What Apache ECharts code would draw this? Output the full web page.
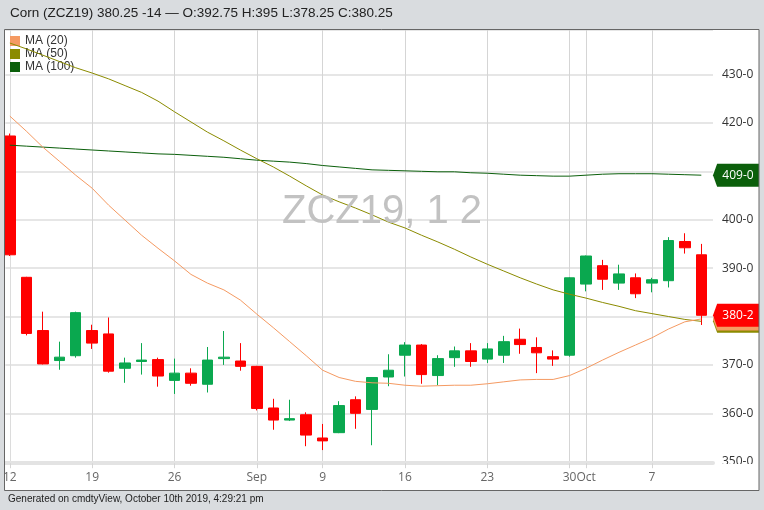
<!DOCTYPE html>
<html>
<head>
<meta charset="utf-8">
<style>
html,body{margin:0;padding:0;background:#d9dcdf;}
#main{width:764px;height:510px;}
</style>
<script src="https://cdn.jsdelivr.net/npm/echarts@6/dist/echarts.min.js"></script>
</head>
<body>
<div id="main"></div>
<script>
var opens = [417.3,388.1,377.1,370.9,371.9,377.1,376.4,369.3,370.7,371.1,366.8,368.3,366,371.3,370.8,369.7,361.1,358.6,359.7,354.9,356,362.8,360.8,367.5,372,374.1,367.8,371.5,372.9,371.2,372,375.3,373.6,371.7,372,386.7,390.5,386.9,388,386.9,387.4,395.5,392.75];
var closes = [392.75,376.5,370.2,371.6,380.8,374.5,368.7,370.4,371,367.7,368.3,366.2,371,371.6,369.7,361,358.6,358.9,355.5,354.3,361.6,360,367.4,368.9,374.1,368,371.3,372.9,370.7,373.3,374.8,374.2,372.5,371.2,388,392.5,387.7,388.8,384.7,387.6,395.7,394.2,380.25];
var lows = [392.5,376.1,370.1,369,371.5,373.3,368.4,366.3,368,365.5,364,365.7,364.3,370,368.8,360.6,356.6,358.4,353.2,352.4,355.9,356.8,353.4,365.6,367.6,366.1,365.8,369.6,369.6,370.4,370.4,372.3,368.3,369.8,371.7,385.2,385.5,385.5,383.8,385,386,393,378.25];
var highs = [417.8,388.2,381,374.8,381,378.3,379.8,371.5,374.5,371.5,371.3,369.3,373.7,377,374.5,369.8,363,362.8,360.2,357.8,362.5,363.5,367.5,372.2,374.7,374.3,372,373.8,374.5,374.5,376,377.5,375.7,373,388.1,392.6,391.7,390.7,388.9,388,396.4,397.2,395];

var ma20 = [421.4,418.3,415,412.1,409.2,406.5,403,399.9,396.8,394.1,391.5,388.7,386.9,385.5,383.4,380.5,377.7,374.8,371.9,368.9,367.4,366.6,366.3,366.2,365.8,365.6,365.7,365.8,365.8,366.1,366.5,366.9,367,367,367.8,369.3,371,372.6,374.1,375.6,377.4,378.9,379.5];
var ma50 = [436.5,435.3,434,432.7,431.4,430.3,429.1,427.7,426.3,424.5,422.3,420.2,418.1,416.3,414.4,412.6,410.9,409,407,405.1,403.7,402.4,401,399.5,398.3,396.8,395.4,393.9,392.3,390.8,389.4,388,386.7,385.5,384.6,383.8,382.9,382.1,381.2,380.6,380,379.4,379];
var ma100 = [415.4,415.2,415,414.8,414.6,414.4,414.2,414,413.8,413.6,413.5,413.3,413.1,412.9,412.6,412.3,412.1,411.9,411.6,411.2,410.9,410.6,410.3,410.2,410.1,410,409.9,409.9,409.7,409.6,409.4,409.2,409.1,409,409,409.2,409.4,409.5,409.5,409.5,409.4,409.3,409.2];

var tickIndex = [0,5,10,15,19,24,29,34,35,39];
var tickLabels = ['12','19','26','Sep','9','16','23','30','Oct','7'];

var titleText = 'Corn (ZCZ19) 380.25 -14 \u2014 O:392.75 H:395 L:378.25 C:380.25';
var footerText = 'Generated on cmdtyView, October 10th 2019, 4:29:21 pm';
var watermark = 'ZCZ19, 1 2';

var xMin = -0.27, xMax = 42.71;
var upColor = '#0aa84f', downColor = '#ff0000';

function toXY(arr){
	return arr.map(function(v,i){ return [i,v]; });
}

// price tag on the right edge, ends on the last value of a series
function priceTag(value,color,text,z){
	return {
		silent:true,
		z:z,
		symbol:'path://M0 50L9 0H100V100H9Z',
		symbolSize:[46,23],
		symbolOffset:[23,0],
		itemStyle:{color:color},
		label:{
			show:true,
			position:'inside',
			offset:[2,0],
			color:'#fff',
			fontSize:12,
			fontFamily:'Open Sans',
			formatter:text
		},
		data:[{coord:[xMax,value]}]
	};
}

function maSeries(name,arr,color,tag){
	return {
		name:name,
		type:'line',
		data:toXY(arr),
		showSymbol:false,
		clip:false,
		lineStyle:{color:color,width:1},
		itemStyle:{color:color},
		markPoint:tag
	};
}

var chart = echarts.init(document.querySelector('#main'));
var option = {
	animation:false,
	backgroundColor:'#d9dcdf',
	textStyle:{fontFamily:'Open Sans'},
	title:[
		{text:titleText,left:10,top:6.5,padding:0,textStyle:{fontFamily:'Liberation Sans',fontSize:13.5,fontWeight:'normal',color:'#222'}},
		{text:footerText,left:8,top:494,padding:0,textStyle:{fontFamily:'Liberation Sans',fontSize:10,fontWeight:'normal',color:'#222'}},
		{text:watermark,left:282,top:192,padding:0,textStyle:{fontFamily:'Liberation Sans',fontSize:40,fontWeight:'normal',color:'#c2c2c2'}}
	],
	legend:{
		data:['MA (20)','MA (50)','MA (100)'],
		orient:'vertical',
		left:10,
		top:35,
		padding:0,
		z:1,
		icon:'rect',
		itemWidth:10,
		itemHeight:10,
		itemGap:1,
		selectedMode:false,
		textStyle:{fontFamily:'Liberation Sans',fontSize:12,color:'#333'}
	},
	grid:{left:5,right:51,top:29.5,bottom:48.3},
	xAxis:{
		type:'value',
		min:xMin,
		max:xMax,
		offset:1.5,
		axisLine:{show:true,lineStyle:{color:'#e3e3e3',width:4}},
		axisTick:{show:true,customValues:tickIndex,length:5,lineStyle:{color:'#d5d5d5'}},
		splitLine:{show:true,lineStyle:{color:'#d5d5d5',width:1}},
		axisLabel:{
			customValues:tickIndex,
			hideOverlap:false,
			margin:8,
			color:'#666',
			fontSize:12,
			fontFamily:'Open Sans',
			formatter:function(v){ return tickLabels[tickIndex.indexOf(v)]; }
		}
	},
	yAxis:{
		type:'value',
		position:'right',
		min:350,
		max:439.3,
		interval:10,
		axisLine:{show:true,lineStyle:{color:'#dcdcdc',width:1}},
		axisTick:{show:false},
		splitLine:{show:true,lineStyle:{color:'#e6e6e6',width:2}},
		axisLabel:{
			showMaxLabel:false,
			margin:9,
			color:'#333',
			fontSize:12,
			fontFamily:'Open Sans',
			formatter:function(v){ return v+'-0'; }
		}
	},
	series:[
		maSeries('MA (100)',ma100,'#0b5f0b',priceTag(ma100[42],'#0b5f0b','409-0',5)),
		maSeries('MA (50)',ma50,'#8b8b00',priceTag(ma50[42],'#8b8b00','',5)),
		maSeries('MA (20)',ma20,'#f59a62',priceTag(ma20[42],'#f59a62','',6)),
		{
			name:'ZCZ19',
			type:'candlestick',
			barWidth:11,
			data:opens.map(function(o,i){ return [i,o,closes[i],lows[i],highs[i]]; }),
			itemStyle:{color:upColor,color0:downColor,borderColor:upColor,borderColor0:downColor,borderWidth:1},
			markPoint:priceTag(closes[42],downColor,'380-2',7)
		}
	],
	graphic:[
		{type:'rect',z:-1,silent:true,shape:{x:4.5,y:29.5,width:754.5,height:461},style:{fill:'#fff'}},
		// bottom of the 350 label is cut off in the source chart
		{type:'rect',z:100,silent:true,shape:{x:715,y:464,width:42,height:10},style:{fill:'#fff'}},
		{type:'rect',z:101,silent:true,shape:{x:4.5,y:29.5,width:754.5,height:461},style:{fill:'none',stroke:'#666',lineWidth:1}}
	]
};

chart.setOption(option);
</script>
</body>
</html>
